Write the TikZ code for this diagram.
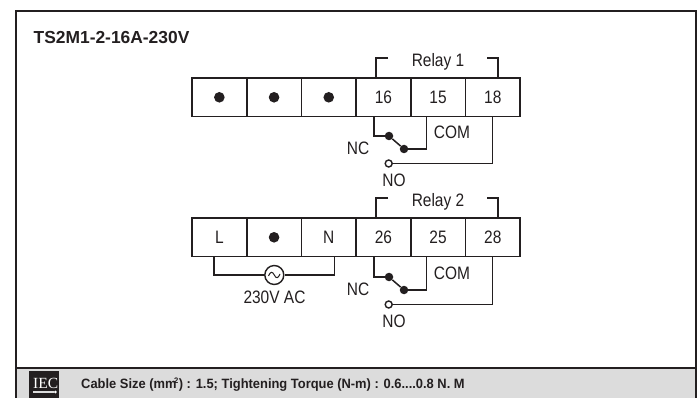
\documentclass[tikz,border=0pt]{standalone}
\usepackage{fontspec}
\setmainfont{Liberation Sans}
\newfontfamily\narrowsans[FakeStretch=0.86]{Liberation Sans}
\newfontfamily\footsans[FakeStretch=0.956]{Liberation Sans}
\newfontfamily\logoserif{Liberation Serif}
\definecolor{ink}{HTML}{231F20}
\definecolor{foot}{HTML}{DCDCDC}
\tikzset{
  x=1pt,y=-1pt,
  frame/.style={draw=ink,line width=2.6pt},
  term/.style={draw=ink,line width=1.8pt,minimum width=54.7pt,minimum height=38.5pt,inner sep=0pt,outer sep=0pt,font=\narrowsans\fontsize{18}{20}\selectfont,text=ink},
  wire/.style={draw=ink,line width=1.5pt},
  lab/.style={inner sep=0pt,font=\narrowsans\fontsize{18}{20}\selectfont,text=ink},
  solid dot/.style={circle,fill=ink,inner sep=0pt,minimum size=#1},
  open dot/.style={circle,draw=ink,fill=white,line width=1.4pt,inner sep=0pt,minimum size=7pt},
}
\newcommand{\bigdot}{\tikz[baseline=-0.5ex]\fill[ink] (0,0) circle (5.3pt);}
\begin{document}
\begin{tikzpicture}
\useasboundingbox (0,0) rectangle (699,398);
\fill[white] (0,0) rectangle (699,398);
\fill[foot] (16,368) rectangle (696,398);
\draw[frame] (16,398) -- (16,11) -- (696,11) -- (696,398);
\draw[frame] (16,368) -- (696,368);
\node[anchor=west,inner sep=0pt,font=\bfseries\fontsize{17.4}{19}\selectfont,text=ink] (title) at (33.5,38) {TS2M1-2-16A-230V};
% row 1
\foreach \n/\cx/\t in {a1/219.35/\bigdot,a2/274.05/\bigdot,a3/328.75/\bigdot,a4/383.4/16,a5/438.1/15,a6/492.8/18}{
  \node[term] (\n) at (\cx,97.3) {\t};
}
% row 2
\foreach \n/\cx/\t in {b1/219.35/L,b2/274.05/\bigdot,b3/328.75/N,b4/383.4/26,b5/438.1/25,b6/492.8/28}{
  \node[term] (\n) at (\cx,237.3) {\t};
}
% relay 1
\node[lab] (r1) at (438,62) {Relay 1};
\coordinate (r1a) at (376,58); \coordinate (r1b) at (388,58);
\coordinate (r1c) at (487,58); \coordinate (r1d) at (498,58);
\draw[wire] (r1b) -- (r1a) -- (r1a |- a4.north);
\draw[wire] (r1c) -- (r1d) -- (r1d |- a6.north);
\node[solid dot=8.5pt] (nc1) at (389,136) {};
\node[solid dot=8.5pt] (cm1) at (404,149) {};
\node[open dot] (no1) at (388.7,163.5) {};
\coordinate (t16) at (374,116.5); \coordinate (t15) at (426.7,116.5); \coordinate (t18) at (492.7,116.5);
\draw[wire] (t16) |- (nc1);
\draw[wire] (nc1) -- (cm1);
\draw[wire] (cm1) -| (t15);
\draw[wire] (no1) -| (t18);
\node[lab] (com1) at (452,132) {COM};
\node[lab] (ncl1) at (358,148) {NC};
\node[lab] (nol1) at (394,180) {NO};
% relay 2
\node[lab] (r2) at (438,202) {Relay 2};
\coordinate (r2a) at (376,198); \coordinate (r2b) at (388,198);
\coordinate (r2c) at (487,198); \coordinate (r2d) at (498,198);
\draw[wire] (r2b) -- (r2a) -- (r2a |- b4.north);
\draw[wire] (r2c) -- (r2d) -- (r2d |- b6.north);
\node[solid dot=8.5pt] (nc2) at (389,277) {};
\node[solid dot=8.5pt] (cm2) at (404,290) {};
\node[open dot] (no2) at (388.7,304.5) {};
\coordinate (t26) at (374,256.5); \coordinate (t25) at (426.7,256.5); \coordinate (t28) at (492.7,256.5);
\draw[wire] (t26) |- (nc2);
\draw[wire] (nc2) -- (cm2);
\draw[wire] (cm2) -| (t25);
\draw[wire] (no2) -| (t28);
\node[lab] (com2) at (452,273) {COM};
\node[lab] (ncl2) at (358,289) {NC};
\node[lab] (nol2) at (394,321) {NO};
% supply
\node[circle,draw=ink,line width=1.4pt,minimum size=19pt,inner sep=0pt] (ac) at (274.3,275) {};
\draw[ink,line width=1pt] (268.5,276) .. controls (270.5,271) and (272.5,271.5) .. (274.3,275) .. controls (276,278.5) and (278,279) .. (280,274);
\coordinate (tl) at (214,256.5); \coordinate (tn) at (334.3,256.5);
\draw[wire] (tl) |- (ac);
\draw[wire] (tn) |- (ac);
\node[lab] (acl) at (274.5,297) {230V AC};
% footer
\node[fill=ink,minimum width=30pt,minimum height=27pt,inner sep=0pt,anchor=north west] (iecbox) at (29,371) {};
\node[text=white,inner sep=0pt,anchor=base west,font=\logoserif\fontsize{15.5}{16}\selectfont] (iec) at (33,388) {IEC};
\fill[foot] (33,391.2) rectangle (53.5,392.8);
\fill[white] (55.3,392) circle (1.5pt);
\node[anchor=west,inner sep=0pt,font=\footsans\bfseries\fontsize{13.5}{15}\selectfont,text=ink] (cable) at (81,385) {Cable Size (mm\kern-2.5pt\raisebox{5pt}{\fontsize{8}{9}\selectfont 2}\kern0.5pt) : 1.5; Tightening Torque (N-m) : 0.6....0.8 N. M};
\end{tikzpicture}
\end{document}
